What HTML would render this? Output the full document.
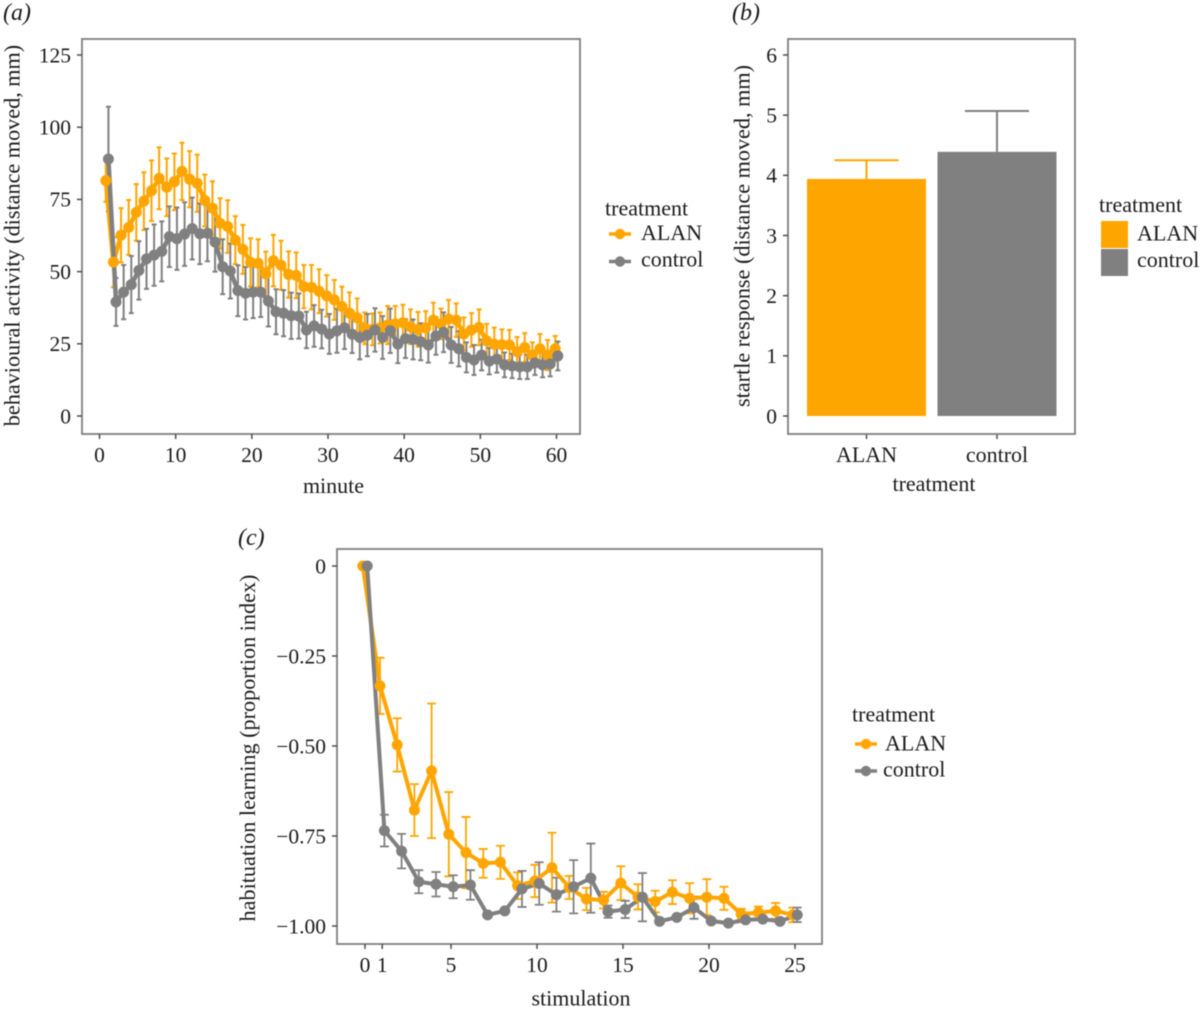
<!DOCTYPE html>
<html>
<head>
<meta charset="utf-8">
<title>Behavioural activity, startle response and habituation learning</title>
<style>
html,body{margin:0;padding:0;background:#fff;width:1200px;height:1011px;overflow:hidden}
svg{display:block;position:absolute;left:0;top:0}
text{font-family:"Liberation Serif",serif;fill:#1a1a1a}
</style>
</head>
<body>
<svg id="chart" width="1200" height="1011" viewBox="0 0 1200 1011" xmlns="http://www.w3.org/2000/svg">
  <g id="root" style="filter:blur(0.45px)">
  <text x="3" y="20" font-size="24" font-style="italic">(a)</text>
  <text x="732" y="20" font-size="24" font-style="italic">(b)</text>
  <text x="238" y="545" font-size="24" font-style="italic">(c)</text>

  <g id="panelA"></g>
  <g id="panelB"></g>
  <g id="panelC"></g>

  <text x="333.5" y="493" font-size="22" text-anchor="middle">minute</text>
  <text transform="translate(19.5,235.5) rotate(-90)" font-size="22.2" text-anchor="middle">behavioural activity (distance moved, mm)</text>
  <text x="934" y="491" font-size="22" text-anchor="middle">treatment</text>
  <text transform="translate(749.5,236) rotate(-90)" font-size="22.2" text-anchor="middle">startle response (distance moved, mm)</text>
  <text x="581" y="1005.5" font-size="22" text-anchor="middle">stimulation</text>
  <text transform="translate(255,748) rotate(-90)" font-size="22.2" text-anchor="middle">habituation learning (proportion index)</text>

  <g>
    <text x="605" y="215.5" font-size="22">treatment</text>
    <g>
      <line x1="609" y1="234" x2="631" y2="234" stroke="#FFA500" stroke-width="3.5"></line>
      <circle cx="620" cy="234" r="5.2" fill="#FFA500"></circle>
      <text x="641" y="240" font-size="22">ALAN</text>
    </g>
    <g>
      <line x1="609" y1="261.5" x2="631" y2="261.5" stroke="#808080" stroke-width="3.5"></line>
      <circle cx="620" cy="261.5" r="5.2" fill="#808080"></circle>
      <text x="641" y="266.5" font-size="22">control</text>
    </g>
  </g>

  <g>
    <text x="1099" y="212" font-size="22">treatment</text>
    <g>
      <rect x="1101" y="221" width="27" height="27" fill="#FFA500"></rect>
      <text x="1137" y="240.5" font-size="22">ALAN</text>
    </g>
    <g>
      <rect x="1101" y="249" width="27" height="27" fill="#808080"></rect>
      <text x="1137" y="267" font-size="22">control</text>
    </g>
  </g>

  <g>
    <text x="852" y="721.5" font-size="22">treatment</text>
    <g>
      <line x1="855" y1="744" x2="877" y2="744" stroke="#FFA500" stroke-width="3.5"></line>
      <circle cx="866" cy="744" r="5.2" fill="#FFA500"></circle>
      <text x="885" y="750.5" font-size="22">ALAN</text>
    </g>
    <g>
      <line x1="855" y1="771" x2="877" y2="771" stroke="#808080" stroke-width="3.5"></line>
      <circle cx="866" cy="771" r="5.2" fill="#808080"></circle>
      <text x="883" y="776.5" font-size="22">control</text>
    </g>
  </g>
  </g>
</svg>
<script>
const ORANGE = '#FFA500';
const GRAY = '#808080';

// Panel (a) data
const minutes = [1,2,3,4,5,6,7,8,9,10,11,12,13,14,15,16,17,18,19,20,21,22,23,24,25,26,27,28,29,30,31,32,33,34,35,36,37,38,39,40,41,42,43,44,45,46,47,48,49,50,51,52,53,54,55,56,57,58,59,60];
const activityAlan = [81.5,53.3,62.6,65.3,70.5,74.4,78,82.3,79.2,81.1,84.7,82,80.6,74.6,72,66.7,65.6,60.9,57.7,53.2,52.9,49.2,53.8,52.2,49,48.7,44.8,44.6,43.2,41.6,40.2,37.9,35.6,34,30.4,30,30.5,31.5,31.9,32.3,30.9,30,30.5,33.2,31.9,33.6,33.2,28.4,29.8,30.7,26,24.9,24.7,24.6,22.3,23.7,21.1,23.3,21.1,23.3];
const activityAlanErr = [7.3,8.7,9.4,9.5,9.8,10,10.5,10.7,10,9.8,9.9,9.7,9.9,9,9.3,8.7,9.1,8.3,8.5,8.3,8.3,7.7,8.9,8.5,8,7.9,7.5,7.7,7.6,7.2,6.9,6.9,7.2,6.7,5.5,5.5,5.4,6.6,6.2,6.2,6,6,5.8,6,5.3,6.6,5.8,5.7,5.8,6.2,5.9,5.7,5.3,5.2,5,5,4.4,5.1,5.2,4.4];
const activityControl = [89,39.5,42.9,45.5,50.4,54.4,55.7,57,62.1,61.4,63,64.9,63.1,63.3,60.2,51.7,50.2,43.4,42.5,42.9,42.9,39.8,36.1,35.6,34.7,34.6,29.8,31.2,30.1,28.4,29.5,30.5,28.3,27.2,28,29.8,27.2,29.5,24.9,26.8,26.5,25.7,24.6,27.7,29,24.6,23.3,20.3,19.4,21.1,19,19.7,17.7,17.3,17,17,18.4,17.7,18,20.8];
const activityControlErr = [18.1,8.3,9.4,9.9,10.1,10.4,10.6,10.4,10.5,10.8,11,10.7,10.5,9.7,10.2,9.5,9.5,8.8,9.1,9,8.6,8.8,7.8,8,8,7.8,6.3,7.2,6.7,6.9,7.6,7.3,6.5,7.6,7.3,7.5,7.4,7.7,6.6,6.7,6.9,6.4,6.1,6.5,6.9,6.2,6.1,5.2,5.2,5.3,4.6,4.7,4.3,4.2,4.2,4.2,4.2,4.3,4.3,5];
const panelAXTicks = [0,10,20,30,40,50,60];
const panelAYTicks = [0,25,50,75,100,125];

// Panel (b) data
const treatments = ['ALAN','control'];
const startleMeans = [3.94,4.39];
const startleUpper = [4.25,5.07];
const panelBYTicks = [0,1,2,3,4,5,6];

// Panel (c) data
const stimulations = [0,1,2,3,4,5,6,7,8,9,10,11,12,13,14,15,16,17,18,19,20,21,22,23,24,25];
const habituationAlan = [0,-0.333,-0.497,-0.678,-0.569,-0.745,-0.796,-0.826,-0.823,-0.888,-0.875,-0.838,-0.893,-0.925,-0.928,-0.881,-0.919,-0.932,-0.906,-0.923,-0.92,-0.923,-0.967,-0.963,-0.958,-0.969];
const habituationAlanErr = [0,0.078,0.074,0.072,0.187,0.117,0.099,0.04,0.046,0.037,0.045,0.097,0.032,0.031,0.023,0.047,0.035,0.03,0.033,0.042,0.05,0.032,0.015,0.017,0.022,0.02];
const habituationControl = [0,-0.735,-0.792,-0.877,-0.884,-0.891,-0.886,-0.969,-0.958,-0.897,-0.882,-0.913,-0.891,-0.867,-0.96,-0.954,-0.92,-0.987,-0.976,-0.949,-0.986,-0.992,-0.983,-0.981,-0.987,-0.969];
const habituationControlErr = [0,0.044,0.048,0.032,0.034,0.032,0.041,0.004,0.004,0.05,0.059,0.047,0.074,0.096,0.017,0.024,0.067,0.003,0.003,0.031,0.003,0.003,0.003,0.003,0.003,0.02];
const panelCXTicks = [0,1,5,10,15,20,25];
const panelCYTicks = [0,-0.25,-0.5,-0.75,-1];
const panelCYTickLabels = ['0','\u22120.25','\u22120.50','\u22120.75','\u22121.00'];

const NS = 'http://www.w3.org/2000/svg';
function make(tag, parent, attrs, text) {
  const el = document.createElementNS(NS, tag);
  for (const k in attrs) el.setAttribute(k, attrs[k]);
  if (text !== undefined) el.textContent = text;
  parent.appendChild(el);
  return el;
}
function drawFrame(parent, box) {
  const el = make('rect', parent, {x: box.l, y: box.t, width: box.r - box.l, height: box.b - box.t, fill: 'none', stroke: '#7f7f7f', 'stroke-width': 1.8});
  
  
}
function drawXTick(parent, px, box, label, size) {
  const t = make('line', parent, {x1: px, x2: px, y1: box.b, y2: box.b + 5, stroke: '#4d4d4d', 'stroke-width': 1.5});
  
  
  const l = make('text', parent, {x: px, y: box.b + 28, 'font-size': size || 21.5, 'text-anchor': 'middle'}, label);
  
  
}
function drawYTick(parent, py, box, label) {
  const t = make('line', parent, {x1: box.l - 5, x2: box.l, y1: py, y2: py, stroke: '#4d4d4d', 'stroke-width': 1.5});
  
  
  const l = make('text', parent, {x: box.l - 11, y: py + 7.3, 'font-size': 21.5, 'text-anchor': 'end'}, label);
  
  
}
function drawErrors(parent, xs, ys, errs, sx, sy, color, cap, sw, dodge, name) {
  xs.forEach(function (v, i) {
    if (!errs[i]) return;
    const px = sx(v) + dodge, hi = sy(ys[i] + errs[i]), lo = sy(ys[i] - errs[i]);
    const g = make('path', parent, {d: 'M' + (px - cap) + ' ' + hi + 'H' + (px + cap) + 'M' + px + ' ' + hi + 'V' + lo + 'M' + (px - cap) + ' ' + lo + 'H' + (px + cap), fill: 'none', stroke: color, 'stroke-width': sw});
    
    
  });
}
function drawLine(parent, xs, ys, sx, sy, color, sw, dodge, name) {
  const pts = xs.map(function (v, i) { return (sx(v) + dodge) + ',' + sy(ys[i]); }).join(' ');
  const l = make('polyline', parent, {points: pts, fill: 'none', stroke: color, 'stroke-width': sw, 'stroke-linejoin': 'round'});
  
  
}
function drawPoints(parent, xs, ys, sx, sy, color, r, dodge, name) {
  xs.forEach(function (v, i) {
    const c = make('circle', parent, {cx: sx(v) + dodge, cy: sy(ys[i]), r: r, fill: color});
    
    
  });
}

// Panel (a)
(function () {
  const g = document.getElementById('panelA');
  const box = {l: 82, r: 580, t: 39, b: 434};
  const sx = function (v) { return 99.5 + v * 7.617; };
  const sy = function (v) { return 416 - v * 2.888; };
  drawErrors(g, minutes, activityAlan, activityAlanErr, sx, sy, ORANGE, 2.5, 2, -1.3, 'alan');
  drawErrors(g, minutes, activityControl, activityControlErr, sx, sy, GRAY, 2.5, 2, 1.3, 'control');
  drawLine(g, minutes, activityAlan, sx, sy, ORANGE, 4.5, -1.3, 'alan');
  drawLine(g, minutes, activityControl, sx, sy, GRAY, 4.5, 1.3, 'control');
  drawPoints(g, minutes, activityAlan, sx, sy, ORANGE, 5.5, -1.3, 'alan');
  drawPoints(g, minutes, activityControl, sx, sy, GRAY, 5.5, 1.3, 'control');
  drawFrame(g, box);
  panelAXTicks.forEach(function (v) { drawXTick(g, sx(v), box, String(v)); });
  panelAYTicks.forEach(function (v) { drawYTick(g, sy(v), box, String(v)); });
})();

// Panel (b)
(function () {
  const g = document.getElementById('panelB');
  const box = {l: 788, r: 1075, t: 39, b: 434};
  const sx = function (i) { return 866.5 + i * 130.5; };
  const sy = function (v) { return 416 - v * 60.17; };
  treatments.forEach(function (name, i) {
    const color = i === 0 ? ORANGE : GRAY;
    const cx = sx(i);
    const e = make('path', g, {d: 'M' + (cx - 32) + ' ' + sy(startleUpper[i]) + 'H' + (cx + 32) + 'M' + cx + ' ' + sy(startleUpper[i]) + 'V' + sy(startleMeans[i]), fill: 'none', stroke: color, 'stroke-width': 2});
    
    
    const r = make('rect', g, {x: cx - 59.5, y: sy(startleMeans[i]), width: 119, height: sy(0) - sy(startleMeans[i]), fill: color});
    
    
    drawXTick(g, cx, box, name, 22);
  });
  drawFrame(g, box);
  panelBYTicks.forEach(function (v) { drawYTick(g, sy(v), box, String(v)); });
})();

// Panel (c)
(function () {
  const g = document.getElementById('panelC');
  const box = {l: 337, r: 822, t: 549, b: 944};
  const sx = function (v) { return 365 + v * 17.2; };
  const sy = function (v) { return 566 - v * 360; };
  drawErrors(g, stimulations, habituationAlan, habituationAlanErr, sx, sy, ORANGE, 4.5, 1.8, -2.2, 'alan');
  drawErrors(g, stimulations, habituationControl, habituationControlErr, sx, sy, GRAY, 4.5, 1.8, 2.2, 'control');
  drawLine(g, stimulations, habituationAlan, sx, sy, ORANGE, 4, -2.2, 'alan');
  drawLine(g, stimulations, habituationControl, sx, sy, GRAY, 4, 2.2, 'control');
  drawPoints(g, stimulations, habituationAlan, sx, sy, ORANGE, 5.5, -2.2, 'alan');
  drawPoints(g, stimulations, habituationControl, sx, sy, GRAY, 5.5, 2.2, 'control');
  drawFrame(g, box);
  panelCXTicks.forEach(function (v) { drawXTick(g, sx(v), box, String(v)); });
  panelCYTicks.forEach(function (v, i) { drawYTick(g, sy(v), box, panelCYTickLabels[i]); });
})();
</script>
</body>
</html>
